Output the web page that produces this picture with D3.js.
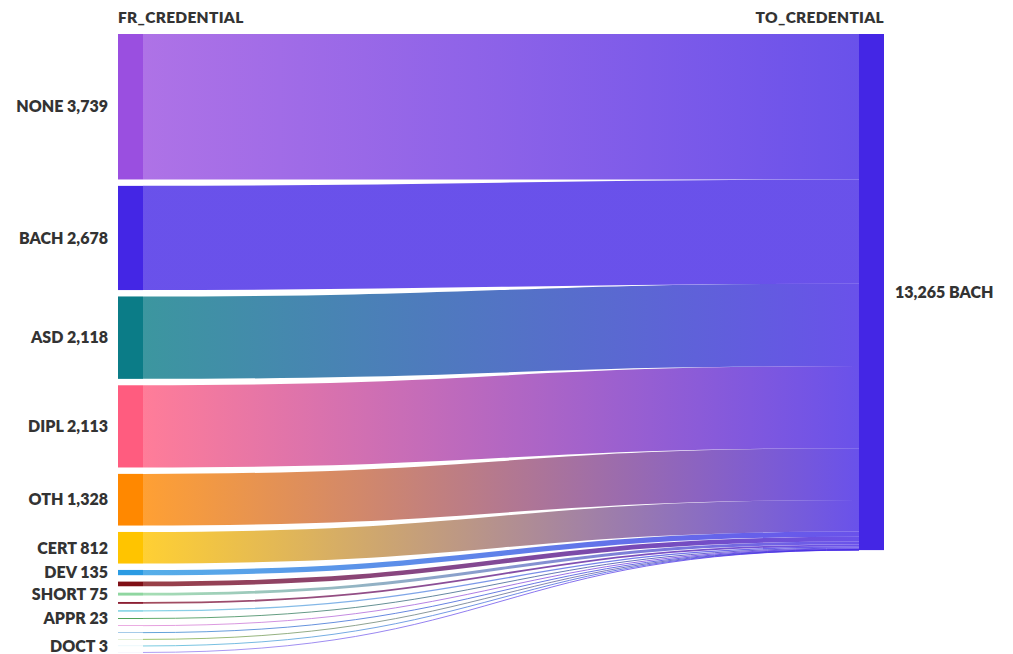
<!DOCTYPE html>
<html>
<head>
<meta charset="utf-8">
<script src="https://cdn.jsdelivr.net/npm/d3@7"></script>
<style>
  html, body { margin: 0; padding: 0; background: #ffffff; }
  svg { display: block; }
  text { font-family: Lato, "Noto Sans", sans-serif; font-weight: 800; fill: #333333; }
</style>
</head>
<body>
<svg id="chart" width="1013" height="654"></svg>
<script>
// Credential held before (left column) -> credential earned (right column)
const fromCredentials = ["NONE", "BACH", "ASD", "DIPL", "OTH", "CERT", "DEV", "", "SHORT", "", "", "APPR", "", "", "", "DOCT", ""];
const studentCounts   = [3739, 2678, 2118, 2113, 1328, 812, 135, 120, 75, 48, 35, 23, 18, 12, 6, 3, 2];
const fromColors      = ["#9a4fe0", "#4426e5", "#0b7c87", "#ff5c7f", "#ff8800", "#ffc400", "#2b9be3", "#7f0f16",
                         "#8fd6a0", "#8c1f33", "#6fcde0", "#3c9a45", "#e28ad6", "#3f8fd0", "#86b844", "#57bfd8", "#9c88f0"];
const toCredential = "BACH";
const toColor = "#4426e5";
const columnTitles = ["FR_CREDENTIAL", "TO_CREDENTIAL"];

const svg = d3.select("#chart");
const fmt = d3.format(",");

// layout frame
const nodeWidth = 25;
const leftX = 118, rightX = 859;
const frameTop = 34, frameBottom = 652.5;
const padding = 6.4;

const total = d3.sum(studentCounts);
const n = studentCounts.length;
const usable = (frameBottom - frameTop) - padding * (n - 1);

// value -> pixel thickness
const thickness = d3.scaleLinear().domain([0, total]).range([0, usable]);

// stack the source nodes
let yCursor = frameTop;
const nodes = studentCounts.map((v, i) => {
  const h = thickness(v);
  const node = { name: fromCredentials[i], value: v, color: fromColors[i], y0: yCursor, y1: yCursor + h };
  yCursor += h + padding;
  return node;
});

const target = { name: toCredential, value: total, y0: frameTop, y1: frameTop + thickness(total) };

// links stacked on the target in source order
let tCursor = target.y0;
const links = nodes.map((s, i) => {
  const w = s.y1 - s.y0;
  const l = { source: s, width: w, ys: (s.y0 + s.y1) / 2, yt: tCursor + w / 2, index: i };
  tCursor += w;
  return l;
});

const defs = svg.append("defs");
links.forEach(l => {
  const g = defs.append("linearGradient")
    .attr("id", "grad" + l.index)
    .attr("gradientUnits", "userSpaceOnUse")
    .attr("x1", leftX + nodeWidth).attr("x2", rightX);
  g.append("stop").attr("offset", "0%").attr("stop-color", l.source.color);
  g.append("stop").attr("offset", "100%").attr("stop-color", toColor);
});

const linkPath = d3.linkHorizontal()
  .source(d => [leftX + nodeWidth, d.ys])
  .target(d => [rightX, d.yt]);

svg.append("g")
  .attr("fill", "none")
  .attr("stroke-opacity", 0.8)
  .selectAll("path")
  .data(links)
  .join("path")
  .attr("d", linkPath)
  .attr("stroke", d => `url(#grad${d.index})`)
  .attr("stroke-width", d => Math.max(1, d.width));

// source nodes
svg.append("g")
  .selectAll("rect")
  .data(nodes)
  .join("rect")
  .attr("x", leftX)
  .attr("y", d => d.y0)
  .attr("width", nodeWidth)
  .attr("height", d => d.y1 - d.y0)
  .attr("fill", d => d.color);

// target node
svg.append("rect")
  .attr("x", rightX)
  .attr("y", target.y0)
  .attr("width", nodeWidth)
  .attr("height", target.y1 - target.y0)
  .attr("fill", toColor);

// source labels
svg.append("g")
  .selectAll("text")
  .data(nodes.filter(d => d.name))
  .join("text")
  .attr("x", leftX - 10)
  .attr("y", d => (d.y0 + d.y1) / 2)
  .attr("dy", "0.36em")
  .attr("text-anchor", "end")
  .style("font-size", "16px")
  .text(d => `${d.name} ${fmt(d.value)}`);

// target label
svg.append("text")
  .attr("x", rightX + nodeWidth + 11)
  .attr("y", (target.y0 + target.y1) / 2)
  .attr("dy", "0.36em")
  .style("font-size", "16px")
  .text(`${fmt(target.value)} ${target.name}`);

// column titles
svg.append("text")
  .attr("x", leftX)
  .attr("y", 23)
  .style("font-size", "15.5px")
  .style("letter-spacing", "0.3px")
  .text(columnTitles[0]);

svg.append("text")
  .attr("x", rightX + nodeWidth)
  .attr("y", 23)
  .attr("text-anchor", "end")
  .style("font-size", "15.5px")
  .style("letter-spacing", "0.3px")
  .text(columnTitles[1]);
</script>
</body>
</html>
